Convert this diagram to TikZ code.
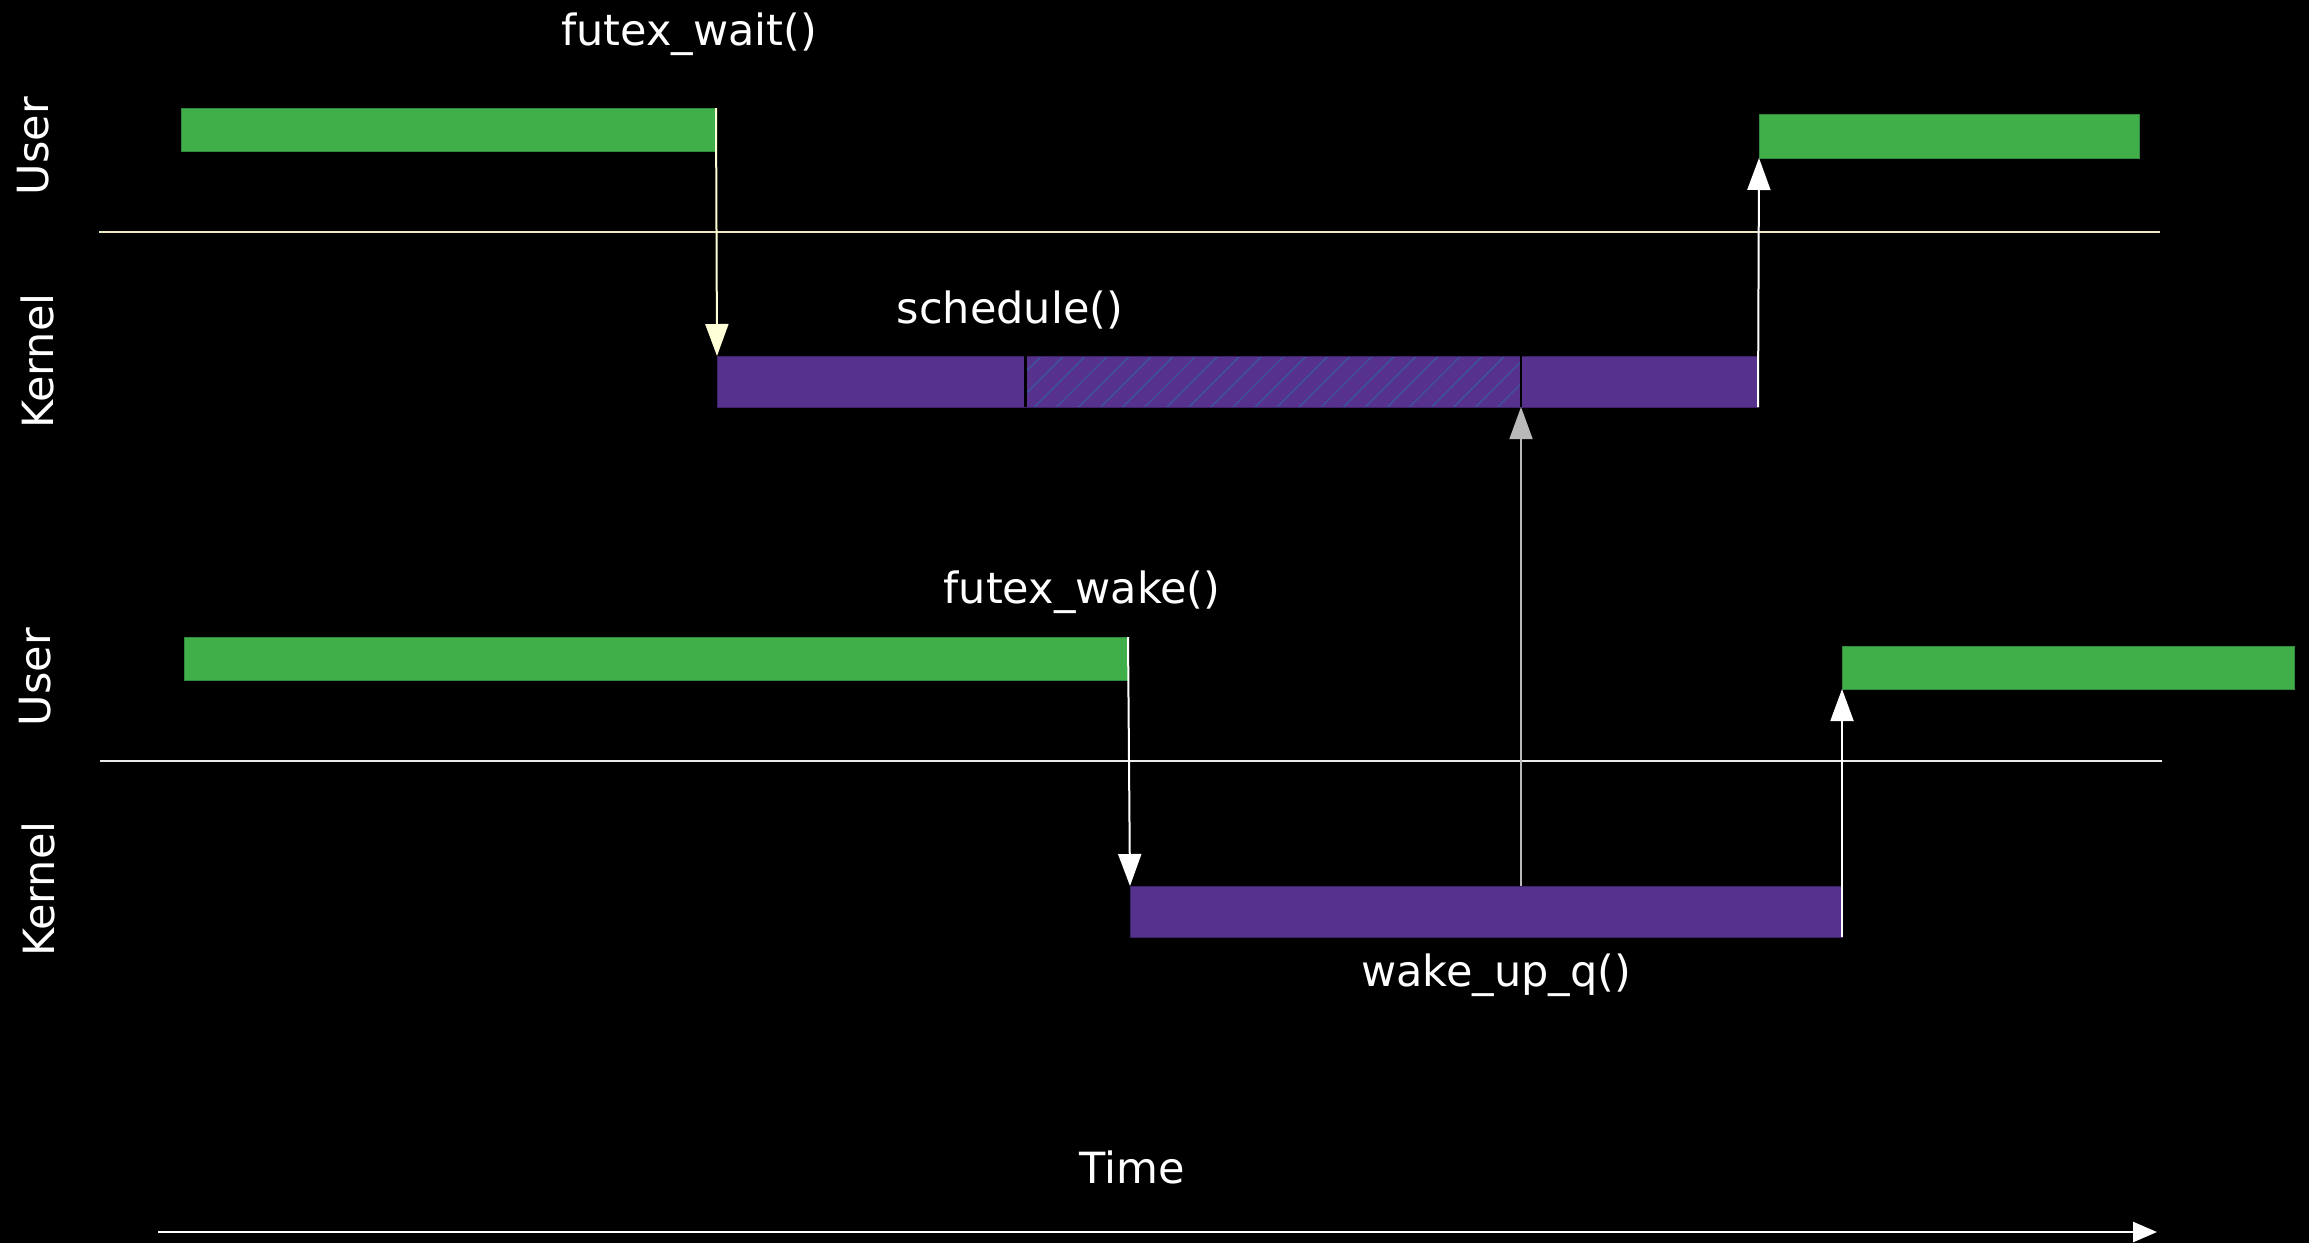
\documentclass[tikz,border=0pt]{standalone}
\usepackage{fontspec}
\setmainfont{DejaVu Sans}
\usetikzlibrary{arrows.meta,patterns.meta}
\definecolor{ugreen}{RGB}{64,175,74}
\definecolor{ugreenb}{RGB}{48,140,58}
\definecolor{kpurple}{RGB}{86,50,142}
\definecolor{kpurpleb}{RGB}{62,34,104}
\definecolor{hatchc}{RGB}{58,88,160}
\definecolor{pale}{RGB}{255,255,215}
\definecolor{sepc}{RGB}{238,234,200}
\definecolor{grayarr}{RGB}{185,185,185}
\begin{document}
\begin{tikzpicture}[x=1pt,y=-1pt,
  lbl/.style={text=white, font=\fontsize{43}{51}\selectfont, inner sep=0pt},
  ubar/.style={fill=ugreen, draw=ugreenb, line width=1pt, inner sep=0pt, outer sep=0pt, anchor=north west},
  kbar/.style={fill=kpurple, draw=kpurpleb, line width=1pt, inner sep=0pt, outer sep=0pt, anchor=north west},
  hbar/.style={preaction={fill=kpurple}, pattern={Lines[angle=45,distance=15.6pt,line width=1.2pt]}, pattern color=hatchc, draw=kpurpleb, line width=1pt, inner sep=0pt, outer sep=0pt, anchor=north west},
  divider/.style={draw=black, line width=2.5pt},
  sepline/.style={line width=2pt},
  callarrow/.style={line width=2pt, -{Triangle[width=23pt,length=32pt]}},
]
\fill[black] (0,0) rectangle (2309,1243);
\useasboundingbox (0,0) rectangle (2309,1243);

% separators
\draw[sepline, sepc] (99,231.5) -- (2160,231.5);
\draw[sepline, white!92!black] (100,761) -- (2162,761);

% top thread
\node[ubar, minimum width=535pt, minimum height=43pt] (u1) at (181,108) {};
\node[kbar, minimum width=308.5pt, minimum height=51pt] (k1a) at (717,356) {};
\node[hbar, minimum width=495.5pt, minimum height=51pt] (k1b) at (1025.5,356) {};
\node[kbar, minimum width=237pt, minimum height=51pt] (k1c) at (1521,356) {};
\draw[divider] (k1a.north east) -- (k1a.south east);
\draw[divider] (k1b.north east) -- (k1b.south east);
\node[ubar, minimum width=380pt, minimum height=44pt] (u2) at (1759,114) {};

% bottom thread
\node[ubar, minimum width=944pt, minimum height=43pt] (u3) at (184,637) {};
\node[kbar, minimum width=712pt, minimum height=51pt] (k2) at (1130,886) {};
\node[ubar, minimum width=452pt, minimum height=43pt] (u4) at (1842,646) {};

% arrows
\draw[callarrow, draw=pale, fill=pale] (u1.north east) -- (k1a.north west);
\draw[callarrow, draw=white, fill=white] (k1c.south east) -- (u2.south west);
\draw[callarrow, draw=white, fill=white] (u3.north east) -- (k2.north west);
\draw[callarrow, line width=1.5pt, draw=grayarr, fill=grayarr] (k1b.south east |- k2.north) -- (k1b.south east);
\draw[callarrow, draw=white, fill=white] (k2.south east) -- (u4.south west);

% time axis
\coordinate (t0) at (158,1232);
\coordinate (t1) at (2157,1232);
\draw[line width=2.5pt, white, -{Triangle[width=20pt,length=24pt]}] (t0) -- (t1);

% labels
\node[lbl] (lwait) at (689,34) {futex\_wait()};
\node[lbl] (lsched) at (1010,310) {schedule()};
\node[lbl] (lwake) at (1082,592) {futex\_wake()};
\node[lbl] (lwq) at (1496,975) {wake\_up\_q()};
\node[lbl] (ltime) at (1132,1167) {Time};
\node[lbl, rotate=90] (user1) at (33,146) {User};
\node[lbl, rotate=90] (kern1) at (37,361) {Kernel};
\node[lbl, rotate=90] (user2) at (35,677) {User};
\node[lbl, rotate=90] (kern2) at (38,889) {Kernel};
\end{tikzpicture}
\end{document}
